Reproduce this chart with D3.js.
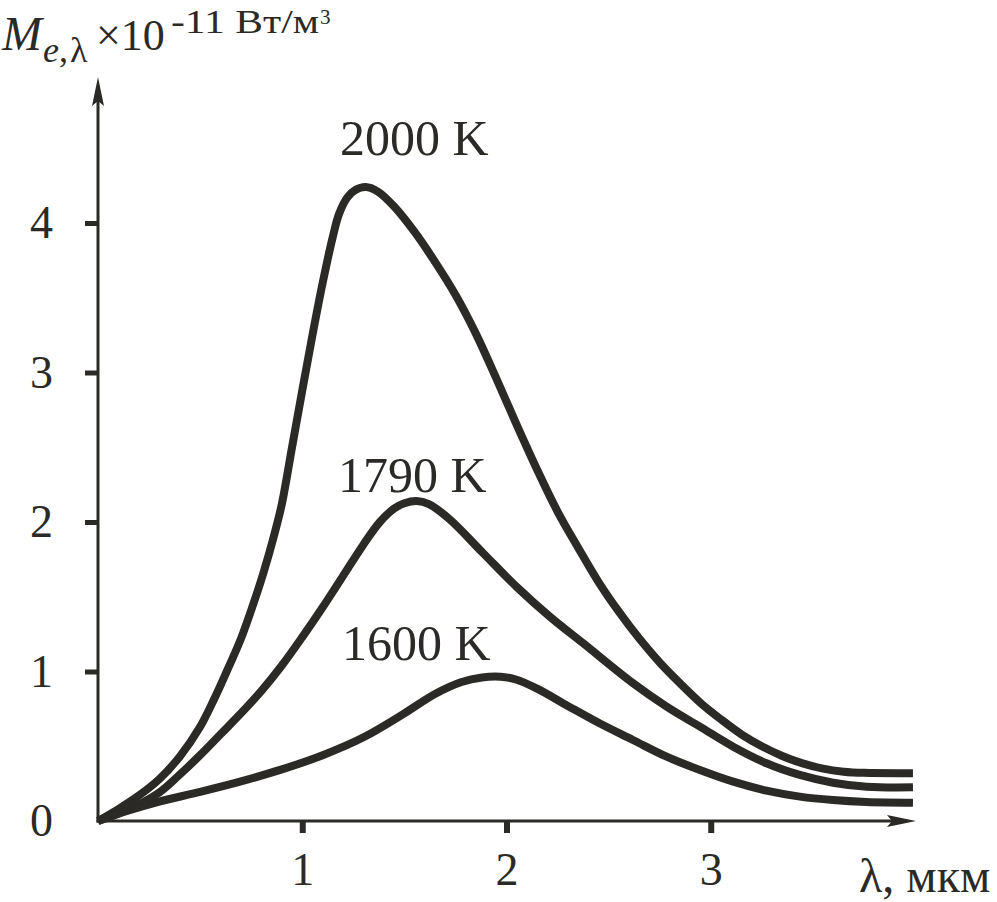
<!DOCTYPE html>
<html>
<head>
<meta charset="utf-8">
<script src="https://cdn.jsdelivr.net/npm/d3@7"></script>
<style>
  html, body { margin: 0; padding: 0; background: #fff; }
  svg { display: block; }
</style>
</head>
<body>
<svg id="chart" width="997" height="902"></svg>
<script>
// ---- data ----
const xTicks = [1, 2, 3];
const yTicks = [0, 1, 2, 3, 4];

const lambda2000 = [0, 0.1, 0.2, 0.3, 0.4, 0.5, 0.57, 0.63, 0.70, 0.76, 0.81, 0.86, 0.90, 0.95, 1.0, 1.05, 1.10, 1.15, 1.18, 1.22, 1.26, 1.31, 1.37, 1.45, 1.55, 1.65, 1.75, 1.85, 1.95, 2.05, 2.15, 2.25, 2.35, 2.45, 2.55, 2.65, 2.75, 2.85, 2.95, 3.05, 3.15, 3.25, 3.35, 3.45, 3.55, 3.65, 3.75, 3.99];
const m2000      = [0, 0.08, 0.17, 0.28, 0.43, 0.63, 0.82, 1.0, 1.22, 1.45, 1.66, 1.90, 2.12, 2.50, 2.88, 3.25, 3.60, 3.91, 4.06, 4.17, 4.22, 4.24, 4.21, 4.11, 3.94, 3.74, 3.52, 3.26, 2.96, 2.65, 2.35, 2.07, 1.83, 1.60, 1.40, 1.22, 1.06, 0.92, 0.79, 0.68, 0.58, 0.50, 0.435, 0.385, 0.35, 0.33, 0.322, 0.32];

const lambda1790 = [0, 0.1, 0.2, 0.3, 0.4, 0.5, 0.6, 0.7, 0.8, 0.9, 1.0, 1.1, 1.2, 1.3, 1.38, 1.45, 1.5, 1.56, 1.62, 1.72, 1.886, 2.049, 2.212, 2.375, 2.62, 2.784, 2.947, 3.11, 3.273, 3.436, 3.599, 3.763, 3.99];
const m1790      = [0, 0.05, 0.11, 0.19, 0.31, 0.44, 0.58, 0.72, 0.87, 1.04, 1.23, 1.43, 1.64, 1.85, 2.0, 2.09, 2.125, 2.14, 2.12, 2.02, 1.791, 1.567, 1.367, 1.189, 0.921, 0.765, 0.631, 0.497, 0.386, 0.308, 0.256, 0.229, 0.225];

const lambda1600 = [0, 0.15, 0.3, 0.5, 0.7, 0.9, 1.1, 1.3, 1.5, 1.65, 1.78, 1.88, 1.97, 2.05, 2.15, 2.3, 2.46, 2.619, 2.784, 2.947, 3.11, 3.273, 3.436, 3.598, 3.763, 3.99];
const m1600      = [0, 0.07, 0.13, 0.195, 0.265, 0.345, 0.44, 0.56, 0.72, 0.85, 0.93, 0.96, 0.965, 0.945, 0.885, 0.77, 0.65, 0.542, 0.43, 0.341, 0.263, 0.203, 0.163, 0.14, 0.127, 0.122];

const seriesNames = ["2000 K", "1790 K", "1600 K"];
const seriesLambda = [lambda2000, lambda1790, lambda1600];
const seriesM = [m2000, m1790, m1600];
// label anchor positions in data units (left x, baseline value)
const labelLambda = [1.185, 1.175, 1.195];
const labelM = [4.455, 2.2, 1.075];

// ---- drawing ----
const ink = "#2b2a27";
const font = "'Liberation Serif', 'Times New Roman', serif";
const svg = d3.select("#chart");

const x = d3.scaleLinear().domain([0, 4]).range([98, 915]);
const y = d3.scaleLinear().domain([0, 4]).range([821, 223]);

// axis lines with arrows
svg.append("line")
  .attr("x1", x(0)).attr("y1", y(0) + 1.5)
  .attr("x2", x(0)).attr("y2", 100)
  .attr("stroke", ink).attr("stroke-width", 3);
svg.append("path")
  .attr("d", `M${x(0)},77 L${x(0) - 6},106 L${x(0)},101 L${x(0) + 6},106 Z`)
  .attr("fill", ink);

svg.append("line")
  .attr("x1", x(0) - 1.5).attr("y1", y(0))
  .attr("x2", 892).attr("y2", y(0))
  .attr("stroke", ink).attr("stroke-width", 3);
svg.append("path")
  .attr("d", `M916,${y(0)} L887,${y(0) - 6} L892,${y(0)} L887,${y(0) + 6} Z`)
  .attr("fill", ink);

// y axis ticks + labels
const yAxis = d3.axisLeft(y).tickValues(yTicks).tickSize(12).tickPadding(32).tickFormat(d3.format("d"));
const gy = svg.append("g").attr("transform", `translate(${x(0) - 1},0)`).call(yAxis);
gy.select(".domain").remove();
gy.selectAll(".tick line").attr("stroke", ink).attr("stroke-width", 5)
  .attr("display", d => d === 0 ? "none" : null);
gy.selectAll(".tick text").attr("fill", ink).attr("font-family", font).attr("font-size", 46);

// x axis ticks + labels
const xAxis = d3.axisBottom(x).tickValues(xTicks).tickSize(11).tickPadding(19).tickFormat(d3.format("d"));
const gx = svg.append("g").attr("transform", `translate(0,${y(0) + 1})`).call(xAxis);
gx.select(".domain").remove();
gx.selectAll(".tick line").attr("stroke", ink).attr("stroke-width", 6);
gx.selectAll(".tick text").attr("fill", ink).attr("font-family", font).attr("font-size", 46);

// curves
const line = d3.line()
  .x(d => x(d[0]))
  .y(d => y(d[1]))
  .curve(d3.curveCatmullRom.alpha(0.5));

seriesLambda.forEach((lams, i) => {
  const pts = lams.map((l, j) => [l, seriesM[i][j]]);
  svg.append("path")
    .attr("d", line(pts))
    .attr("fill", "none")
    .attr("stroke", ink)
    .attr("stroke-width", 8)
    .attr("stroke-linejoin", "round")
    .attr("stroke-linecap", "butt");
});

// curve labels
seriesNames.forEach((name, i) => {
  svg.append("text")
    .attr("x", x(labelLambda[i]))
    .attr("y", y(labelM[i]))
    .attr("fill", ink)
    .attr("font-family", font)
    .attr("font-size", 50)
    .text(name);
});

// y axis title
const t = svg.append("text").attr("y", 50).attr("fill", ink).attr("font-family", font);
t.append("tspan").attr("x", 2).attr("font-size", 48).attr("font-style", "italic").text("M");
t.append("tspan").attr("x", 43).attr("dy", 12).attr("font-size", 36).attr("font-style", "italic").text("e");
t.append("tspan").attr("font-size", 36).text(",");
t.append("tspan").attr("x", 70).attr("font-size", 36).text("λ");
t.append("tspan").attr("x", 96).attr("dy", -12).attr("font-size", 44).text("×10");

svg.append("text")
  .attr("x", 171).attr("y", 33)
  .attr("fill", ink).attr("font-family", font).attr("font-size", 33)
  .attr("textLength", 148).attr("lengthAdjust", "spacingAndGlyphs")
  .text("-11 Вт/м");
svg.append("text")
  .attr("x", 320).attr("y", 24)
  .attr("fill", ink).attr("font-family", font).attr("font-size", 21)
  .text("3");

// x axis title
svg.append("text")
  .attr("x", 859).attr("y", 892)
  .attr("fill", ink).attr("font-family", font).attr("font-size", 48)
  .text("λ, мкм");
</script>
</body>
</html>
